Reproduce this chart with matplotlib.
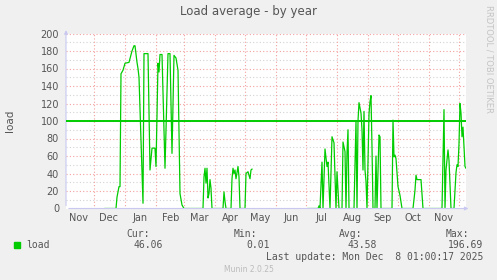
import numpy as np
import pandas as pd
import matplotlib
matplotlib.use("Agg")
import matplotlib.pyplot as plt
import matplotlib.dates as mdates

# Munin "by year" window: 400 days ending at the last update
window_start = pd.Timestamp("2024-11-03 01:00")
window_end = pd.Timestamp("2025-12-08 01:00")

# load samples: day offset from window start, value (nan = no data)
load_days = [
    39, 50, 51, 53, 54, 55, 56, 57, 59, 63, 66, 68, 69, 71, 72, 73, 77, 78,
    82, 84, 86, 89, 90, 92, 93, 94, 96, 99, 102, 104, 106, 108, 110, 112,
    114, 116, 118, 137, 138, 139, 140, 141, 142, 143, 144, 145, 146, 157,
    158, 159, 160, 165, 166, 167, 168, 169, 170, 172, 173, 174, 179, 180,
    182, 184, 185, 186,
    214,
    242, 252, 253, 254, 256, 257, 259, 261, 262, 264, 266, 268, 270, 271,
    273, 276, 277, 279, 280, 281, 282, 283, 288, 290, 291, 292, 293, 295,
    296, 297, 298, 299, 300, 301, 303, 304, 305, 306, 307, 309, 310, 311,
    313, 314, 315, 326, 327, 328, 329, 330, 332, 334, 336, 347, 349, 350,
    351, 355, 357, 376, 377, 378, 379, 380, 382, 383, 385, 388, 390, 391,
    392, 393, 394, 395, 396, 397, 398, 399, 400,
]
load_vals = [
    0, 0, 13, 25, 25, 154, 156, 158, 166, 167, 180, 186, 186, 167, 160, 150, 6, 177,
    177, 44, 69, 69, 48, 166, 156, 176, 176, 46, 177, 177, 63, 175, 172, 158,
    17, 4, 0, 0, 36, 46, 29, 46, 12, 17, 33, 23, 0, 0,
    19, 8, 0, 0, 34, 46, 40, 44, 34, 48, 36, 0, 0, 40,
    42, 34, 44, 45,
    np.nan,
    0, 0, 3, 0, 53, 0, 68, 48, 53, 0, 82, 75, 0, 42,
    0, 0, 76, 65, 0, 63, 90, 0, 0, 100, 0, 100, 121, 109,
    90, 44, 111, 44, 31, 0, 108, 122, 129, 70, 0, 0, 60, 0,
    84, 82, 0, 0, 101, 59, 61, 57, 25, 15, 0, 0, 21, 38,
    33, 33, 0, 0, 55, 113, 0, 44, 67, 55, 0, 0, 41, 50,
    48, 74, 120, 109, 82, 93, 71, 48, 46,
]
warning_level = 100

month_labels = ["Nov", "Dec", "Jan", "Feb", "Mar", "Apr", "May", "Jun",
                "Jul", "Aug", "Sep", "Oct", "Nov"]
month_starts = pd.date_range("2024-12-01", "2025-12-01", freq="MS")
label_pos = pd.date_range("2024-11-01", "2025-11-01", freq="MS") + pd.Timedelta(days=15)

legend_stats = {"Cur:": "46.06", "Min:": "0.01", "Avg:": "43.58", "Max:": "196.69"}

W, H = 497, 280
BG = "#F0F0F0"
GREEN = "#00CC00"
TXT = "#555555"
MONO = "DejaVu Sans Mono"

fig = plt.figure(figsize=(W / 100, H / 100), dpi=100, facecolor=BG)
# plot area in pixel coords: x 66..466, y 33.5..208.5
ax = fig.add_axes([66 / W, 71.5 / H, 400 / W, 175 / H], facecolor="white")

x = window_start + pd.to_timedelta(load_days, unit="D")
ax.set_xlim(window_start, window_end)
ax.set_ylim(0, 200)

# grid
for v in range(10, 201, 10):
    col = "#F4A0A0" if v % 20 == 0 else "#D2D2D2"
    ax.axhline(v, color=col, lw=0.8, ls=(0, (1, 2)), zorder=1)
for d in month_starts:
    ax.axvline(d, color="#F4A0A0", lw=0.8, ls=(0, (1, 2)), zorder=1)

ax.plot(x, load_vals, color=GREEN, lw=0.9, zorder=3)
ax.axhline(warning_level, color=GREEN, lw=1.4, zorder=4)

for s in ax.spines.values():
    s.set_visible(False)

ax.set_yticks(range(0, 201, 20))
ax.tick_params(axis="y", length=0, pad=5, labelsize=7, labelcolor=TXT)
ax.set_xticks(label_pos)
ax.set_xticklabels(month_labels)
ax.tick_params(axis="x", length=0, pad=3, labelsize=7, labelcolor=TXT)

# rrdtool style axis arrows
axis_col = "#C8C8F0"
ax.annotate("", xy=(0, 1.035), xytext=(0, 0), xycoords="axes fraction",
            arrowprops=dict(arrowstyle="-|>", color=axis_col, lw=0.8, mutation_scale=5))
ax.annotate("", xy=(1.013, 0), xytext=(0, 0), xycoords="axes fraction",
            arrowprops=dict(arrowstyle="-|>", color=axis_col, lw=0.8, mutation_scale=5))

# texts
fig.text(248 / W, 1 - 12 / H, "Load average - by year", ha="center", va="center",
         fontsize=8.5, color=TXT)
fig.text(10 / W, 1 - 121 / H, "load", rotation=90, ha="center", va="center",
         fontsize=7.5, color=TXT)
fig.text(489 / W, 1 - 5 / H, "RRDTOOL / TOBI OETIKER", rotation=270, ha="center",
         va="top", fontsize=6, color="#C4C4C4")

fig.patches.append(plt.Rectangle((14 / W, 1 - 248 / H), 6 / W, 6 / H,
                                 transform=fig.transFigure, color=GREEN))
fig.text(26 / W, 1 - 245 / H, "load", ha="left", va="center", fontsize=7,
         color=TXT, family=MONO)

label_right = [150, 257, 362, 469]
value_right = [163, 270, 377, 483]
for (lab, val), lx, vx in zip(legend_stats.items(), label_right, value_right):
    fig.text(lx / W, 1 - 234 / H, lab, ha="right", va="center", fontsize=7,
             color=TXT, family=MONO)
    fig.text(vx / W, 1 - 245 / H, val, ha="right", va="center", fontsize=7,
             color=TXT, family=MONO)

fig.text(483 / W, 1 - 257 / H, "Last update: Mon Dec  8 01:00:17 2025", ha="right",
         va="center", fontsize=7, color=TXT, family=MONO)
fig.text(249 / W, 1 - 269 / H, "Munin 2.0.25", ha="center", va="center",
         fontsize=5.5, color="#BBBBBB")

fig.savefig("out.png", dpi=100, facecolor=BG)
